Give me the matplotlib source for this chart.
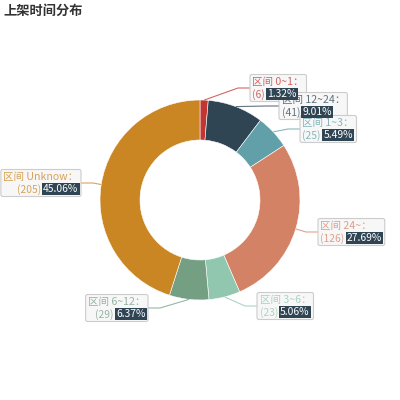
import numpy as np
import matplotlib
matplotlib.use("Agg")
import matplotlib.pyplot as plt
from matplotlib.patches import FancyBboxPatch

plt.rcParams['font.family'] = ['Noto Sans CJK SC', 'DejaVu Sans']

# data
names = ["0~1", "12~24", "1~3", "24~", "3~6", "6~12", "Unknow"]
counts = [6, 41, 25, 126, 23, 29, 205]
percents = ["1.32%", "9.01%", "5.49%", "27.69%", "5.06%", "6.37%", "45.06%"]
colors = ["#c23531", "#2f4554", "#61a0a8", "#d48265", "#91c7ae", "#749f83", "#ca8622"]

# label layout (image pixels): end of leader line, side of the pie
label_ends = [(250, 88), (279, 106), (300, 129), (318, 232), (257, 306), (148, 308), (81, 183)]
label_sides = ["r", "r", "r", "r", "r", "l", "l"]

W = H = 400
CX, CY, R, RING = 200, 200, 100, 40


def Y(y):
    return H - y


fig = plt.figure(figsize=(4, 4), dpi=100)
ax = fig.add_axes([0, 0, 1, 1])
wedges, _ = ax.pie(counts, colors=colors, startangle=90, counterclock=False,
                   radius=R, center=(CX, Y(CY)),
                   wedgeprops=dict(width=RING, edgecolor="white", linewidth=0.4))
ax.set_xlim(0, W)
ax.set_ylim(0, H)
ax.set_aspect("equal")
ax.axis("off")

ax.text(3, Y(11), "上架时间分布", ha="left", va="center", fontsize=9.5,
        fontweight="bold", color="#333333")

renderer = fig.canvas.get_renderer()
total = sum(counts)
cum = np.cumsum([0] + counts)
pad, lh = 2.5, 12.5

for i, name in enumerate(names):
    mid = (cum[i] + cum[i + 1]) / 2 / total
    ang = np.deg2rad(90 - 360 * mid)
    sx, sy = CX + R * np.cos(ang), CY - R * np.sin(ang)
    ex, ey = label_ends[i]
    side = label_sides[i]
    elbow = ex - 12 if side == "r" else ex + 12
    ax.plot([sx, elbow, ex], [Y(sy), Y(ey), Y(ey)], color=colors[i],
            lw=0.8, alpha=0.75, zorder=3, solid_capstyle="butt")

    col = colors[i]
    t1 = ax.text(0, Y(ey - lh / 2), f"区间 {name}：", fontsize=7.6, color=col,
                 alpha=0.75, va="center", ha="left", zorder=6)
    t2 = ax.text(0, Y(ey + lh / 2), f"({counts[i]}) ", fontsize=7.4, color=col,
                 alpha=0.75, va="center", ha="left", zorder=6)
    t3 = ax.text(0, Y(ey + lh / 2), percents[i], fontsize=7.4, color="white",
                 va="center", ha="left", zorder=7,
                 bbox=dict(boxstyle="square,pad=0.12", fc="#2f4554", ec="none"))
    w1 = t1.get_window_extent(renderer).width
    w2 = t2.get_window_extent(renderer).width
    w3 = t3.get_window_extent(renderer).width
    bw = max(w1, w2 + w3) + 2 * pad
    x0 = ex if side == "r" else ex - bw
    if side == "r":
        t1.set_x(x0 + pad)
        t2.set_x(x0 + pad)
        t3.set_x(x0 + pad + w2)
    else:
        t1.set_x(x0 + bw - pad - w1)
        t3.set_x(x0 + bw - pad - w3)
        t2.set_x(x0 + bw - pad - w3 - w2)
    bh = 2 * lh + 2
    ax.add_patch(FancyBboxPatch((x0, Y(ey + bh / 2)), bw, bh,
                                boxstyle="round,pad=0,rounding_size=2",
                                fc="#f7f7f7", ec="#cccccc", lw=0.8, zorder=5))

fig.savefig("out.png", dpi=100, facecolor="white")
